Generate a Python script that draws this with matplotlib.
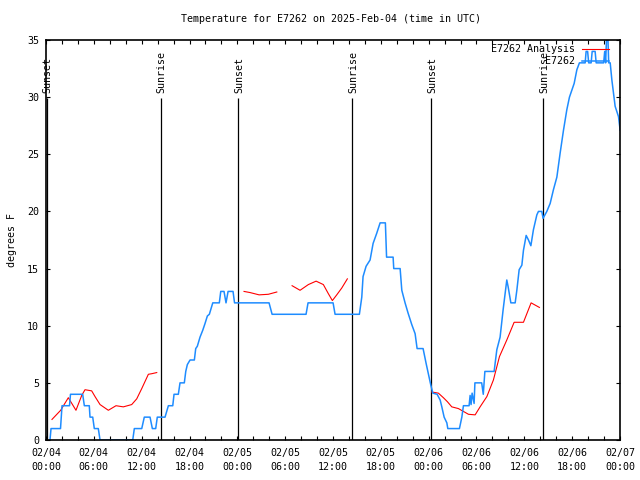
#!/usr/bin/env python3
import numpy as np
import matplotlib
matplotlib.use("Agg")
import matplotlib.pyplot as plt

# hours since 2025-02-04 00:00 UTC
obs_hours = [0.50, 0.63, 1.82, 2.01, 2.95, 3.07, 4.60, 4.81, 5.43, 5.52, 5.86, 6.06, 6.56, 6.78,
             10.88, 11.08, 12.01, 12.33, 13.05, 13.34, 13.76, 13.96, 14.93, 15.14, 15.35, 15.90,
             16.06, 16.60, 16.81, 17.35, 17.53, 17.73, 18.07, 18.61, 18.78, 18.98, 19.32, 19.66,
             19.95, 20.24, 20.49, 20.92, 21.74, 21.92, 22.33, 22.58, 22.84, 23.46, 23.65, 27.98,
             28.36, 32.62, 32.87, 36.01, 36.26, 39.31, 39.61, 39.77, 40.15, 40.65, 41.03, 41.49,
             41.91, 42.57, 42.72, 43.54, 43.62, 44.42, 44.63, 45.04, 45.42, 45.88, 46.30, 46.55,
             47.30, 47.68, 47.93, 48.27, 48.52, 49.06, 49.44, 49.65, 49.94, 50.28, 50.40, 51.86,
             52.16, 52.36, 53.07, 53.20, 53.32, 53.45, 53.70, 53.80, 54.65, 54.85, 55.05, 55.30,
             56.21, 56.55, 56.96, 57.34, 57.80, 57.97, 58.31, 58.85, 59.06, 59.35, 59.69, 59.89,
             60.23, 60.52, 60.82, 61.14, 61.57, 61.77, 62.19, 62.35, 62.82, 63.24, 63.65, 64.08,
             64.49, 64.91, 65.33, 65.66, 65.96, 66.25, 66.59, 66.91, 67.63, 67.75, 67.94, 68.07,
             68.38, 68.51, 68.88, 69.01, 69.95, 70.08, 70.20, 70.35, 70.45, 70.58, 70.77, 70.98,
             71.39, 71.81, 72.02]
obs_temps = [0, 1, 1, 3, 3, 4, 4, 3, 3, 2, 2, 1, 1, 0,
             0, 1, 1, 2, 2, 1, 1, 2, 2, 2.5, 3, 3,
             4, 4, 5, 5, 6, 6.6, 7, 7, 8, 8.2, 9, 9.6,
             10.2, 10.85, 11, 12, 12, 13, 13, 12, 13, 13, 12, 12,
             11, 11, 12, 12, 11, 11, 12.5, 14.3, 15.2, 15.75, 17.2, 18.1,
             19, 19, 16, 16, 15, 15, 13.1, 12, 11.1, 10.1, 9.3, 8,
             8, 6.7, 5.9, 4.8, 4.1, 4, 3.5, 2.9, 2, 1.5, 1, 1,
             2, 3, 3, 3.9, 3.1, 4.1, 3.2, 5, 5, 4, 6, 6,
             6, 7.9, 9, 11.4, 14, 13.4, 12, 12, 13.1, 14.9, 15.3, 16.6,
             17.9, 17.5, 17, 18.4, 19.7, 20, 20, 19.4, 20, 20.7, 21.9, 23,
             25.1, 27.1, 28.9, 30, 30.6, 31.2, 32.4, 33, 33, 34, 34, 33,
             33, 34, 34, 33, 33, 34, 33, 36, 36, 33, 33, 31.5,
             29.2, 28.3, 27.1]

# analysis (NaN = no value)
ana_hours = [0.75, 1.84, 2.80, 3.76, 4.48, 4.89, 5.73, 6.15, 6.78, 7.82, 8.78, 9.70, 10.75,
             11.38, 12.01, 12.84, 13.26, 13.89, 14.0,
             24.84, 25.60, 26.73, 27.89, 28.95, 29.0,
             30.87, 31.87, 32.91, 33.88, 34.79, 35.42, 35.92, 36.47, 37.10, 37.80, 38.0,
             48.39, 49.22, 49.85, 50.35, 50.90, 51.73, 52.36, 52.99, 53.83, 54.45, 55.30,
             56.12, 56.88, 57.80, 58.72, 59.89, 60.85, 61.89]
ana_temps = [1.8, 2.6, 3.7, 2.6, 3.9, 4.4, 4.3, 3.8, 3.1, 2.6, 3.0, 2.9, 3.1,
             3.6, 4.5, 5.75, 5.8, 5.9, np.nan,
             13.0, 12.9, 12.7, 12.75, 12.95, np.nan,
             13.5, 13.1, 13.6, 13.9, 13.6, 12.8, 12.2, 12.7, 13.3, 14.1, np.nan,
             4.2, 4.1, 3.7, 3.35, 2.9, 2.75, 2.5, 2.25, 2.2, 2.9, 3.8,
             5.25, 7.3, 8.75, 10.3, 10.3, 12.0, 11.6]

sun_hours = [0.1, 14.4, 24.1, 38.4, 48.3, 62.4]
sun_names = ["Sunset", "Sunrise", "Sunset", "Sunrise", "Sunset", "Sunrise"]

tick_hours = list(range(0, 73, 6))
tick_labels = ["02/04\n00:00", "02/04\n06:00", "02/04\n12:00", "02/04\n18:00",
               "02/05\n00:00", "02/05\n06:00", "02/05\n12:00", "02/05\n18:00",
               "02/06\n00:00", "02/06\n06:00", "02/06\n12:00", "02/06\n18:00",
               "02/07\n00:00"]

plt.rcParams['font.family'] = ['DejaVu Sans Mono']
fs = 7.2

fig = plt.figure(figsize=(6.4, 4.8), dpi=100)
ax = fig.add_axes([46 / 640, 40 / 480, 574 / 640, 400 / 480])

ax.vlines(sun_hours, 0, 29.9, color='black', lw=0.9)
for h, name in zip(sun_hours, sun_names):
    ax.text(h + 0.12, 30.4, name, rotation=90, ha='center', va='bottom', fontsize=fs)

ax.plot(ana_hours, ana_temps, color='#ff0000', lw=0.8, label="E7262 Analysis")
ax.plot(obs_hours, obs_temps, color='#1e8cff', lw=1.1, label="E7262")

ax.set_xlim(0, 72)
ax.set_ylim(0, 35)
ax.set_xticks(tick_hours)
ax.set_xticklabels(tick_labels, fontsize=fs, linespacing=1.4)
ax.set_xticks(range(0, 73, 2), minor=True)
ax.set_yticks(range(0, 36, 5))
ax.tick_params(axis='y', labelsize=fs)
ax.tick_params(which='both', direction='in', top=True, right=True, length=3, width=0.8, color='black')
ax.tick_params(axis='x', pad=6)
ax.tick_params(axis='y', pad=5)
for sp in ax.spines.values():
    sp.set_linewidth(1.2)

ax.set_ylabel("degrees F", fontsize=fs, labelpad=7)

fig.text(331 / 640, 1 - 19 / 480, "Temperature for E7262 on 2025-Feb-04 (time in UTC)",
         ha='center', va='center', fontsize=fs)

ax.legend(loc='upper right', bbox_to_anchor=(0.9814, 0.989), markerfirst=False, frameon=False,
          fontsize=fs, handlelength=2.7, handletextpad=0.7, labelspacing=0.2,
          borderpad=0, borderaxespad=0)

fig.savefig("out.png", dpi=100)
